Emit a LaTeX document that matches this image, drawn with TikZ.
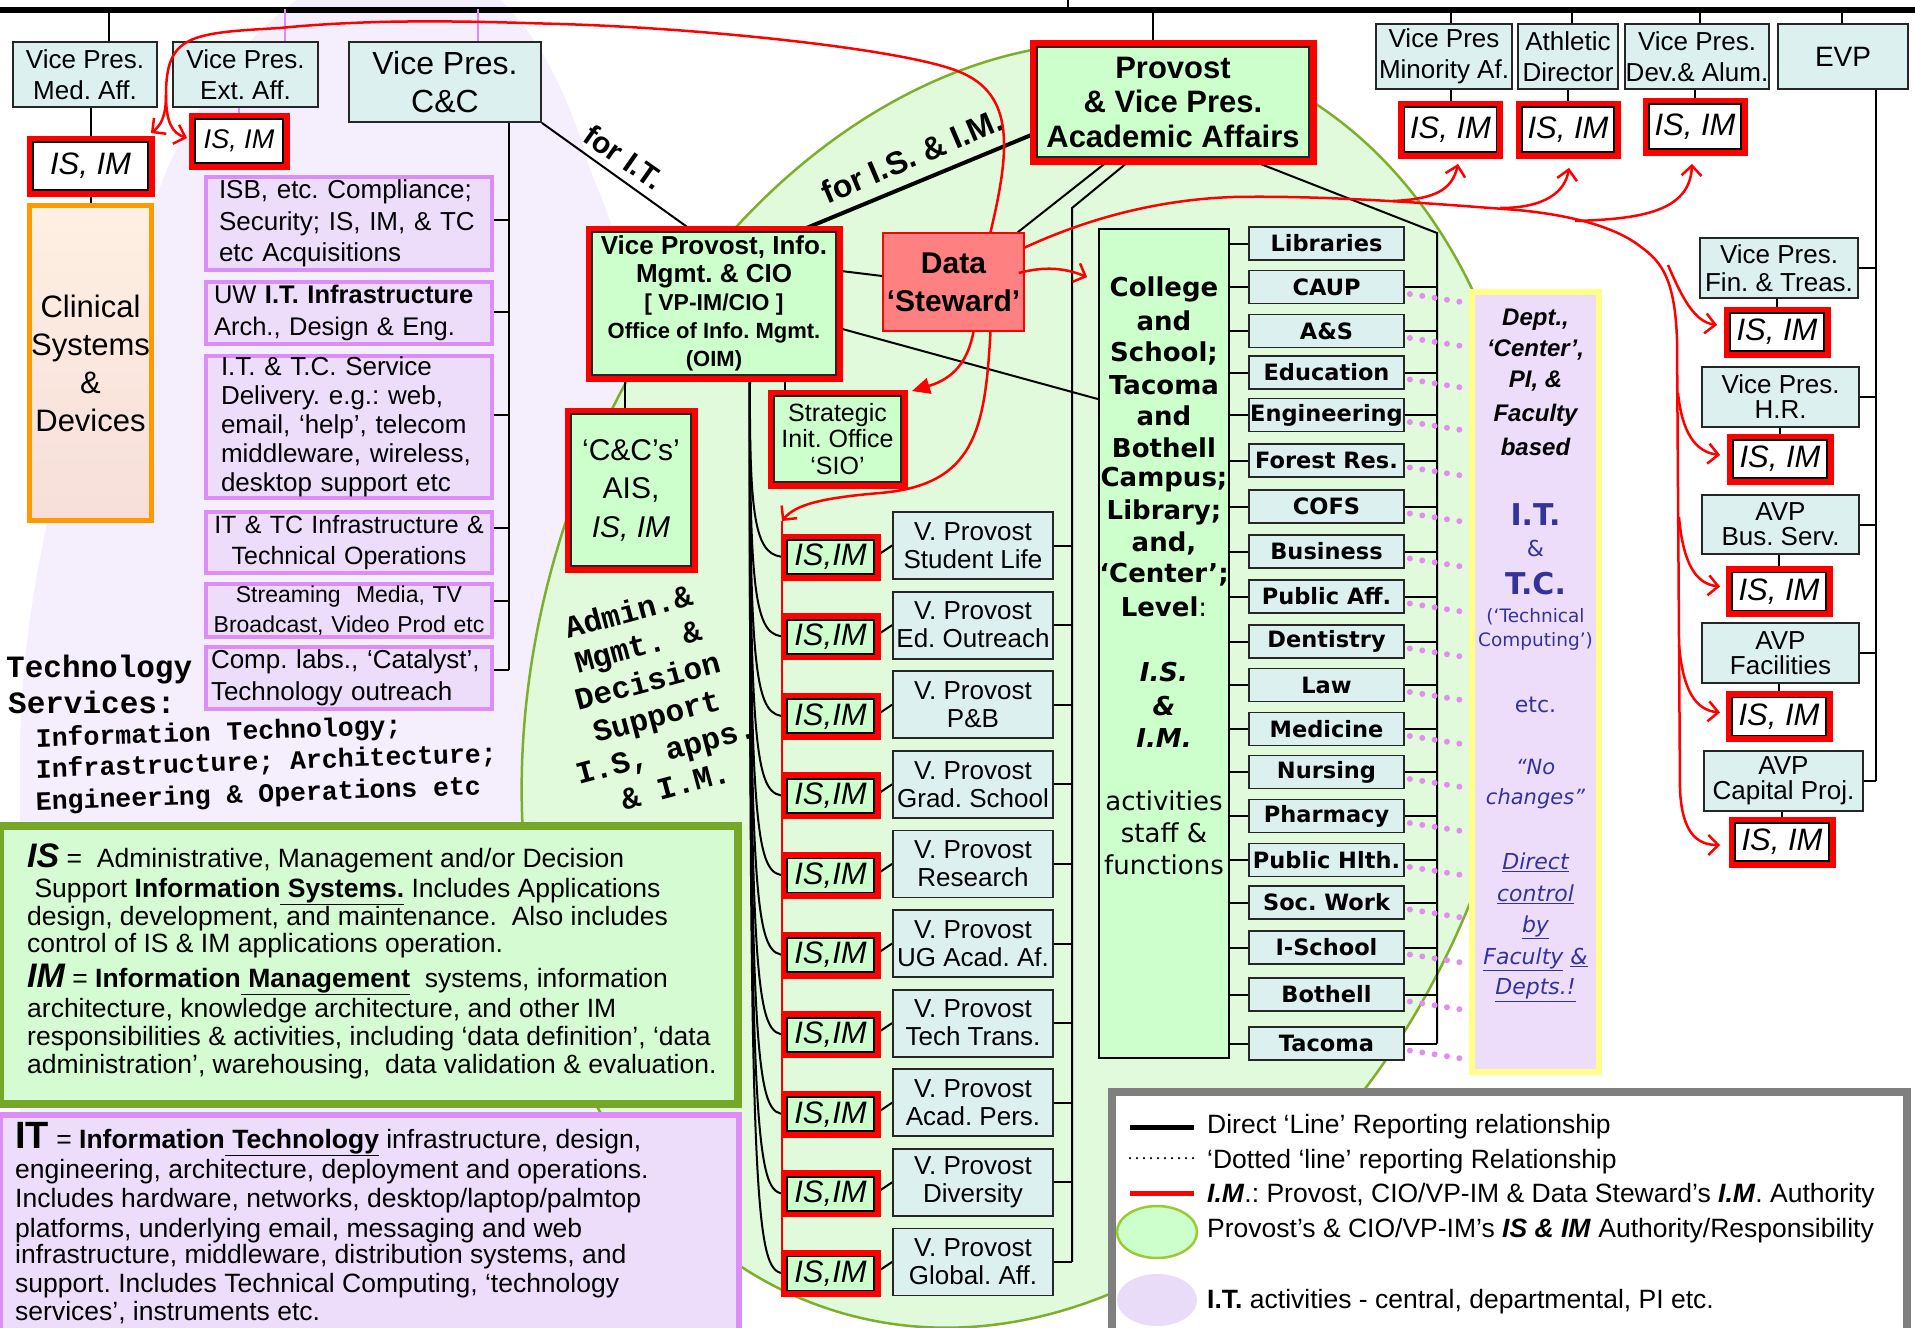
\documentclass[tikz,border=0pt]{standalone}
\usepackage{fontspec}
\setmainfont{Liberation Sans}
\newfontfamily\dvs{DejaVu Sans}
\newfontfamily\cour{Liberation Mono}
\usetikzlibrary{arrows.meta,calc,shapes.geometric}
\newcommand\fsz[2]{\fontsize{#1}{#2}\selectfont}
\pgfdeclarelayer{bgbg}
\pgfdeclarelayer{bg}
\pgfsetlayers{bgbg,bg,main}
\definecolor{vpfill}{HTML}{DDF0F0}
\definecolor{lgreen}{HTML}{CCFFCC}
\definecolor{ellfill}{HTML}{E0FADB}
\definecolor{elldraw}{HTML}{7DAF2D}
\definecolor{lav}{HTML}{F4EEFD}
\definecolor{pfill}{HTML}{EDDDFB}
\definecolor{pborder}{HTML}{DD8DF7}
\definecolor{purpline}{HTML}{D98CF5}
\definecolor{dotpink}{HTML}{E58CF0}
\definecolor{ybord}{HTML}{FFFF88}
\definecolor{dsfill}{HTML}{FF8080}
\definecolor{clinA}{HTML}{FEF0E2}
\definecolor{clinB}{HTML}{F7DEDA}
\definecolor{clinorange}{HTML}{FF9900}
\definecolor{dblue}{HTML}{333399}
\definecolor{isfill}{HTML}{D5FBD2}
\definecolor{isdraw}{HTML}{75A828}
\definecolor{lgray}{HTML}{7F7F7F}
\definecolor{legreen}{HTML}{99CC33}
\definecolor{legpurp}{HTML}{E8DCF8}
\begin{document}
\frenchspacing
\begin{tikzpicture}[x=1pt,y=-1pt,
 obox/.style={draw=black!85, line width=1.8pt, fill=vpfill, inner sep=0pt, align=center},
 gbox/.style={obox, fill=lgreen},
 redfr/.style={preaction={draw=red, line width=13pt}},
 redfrb/.style={preaction={draw=red, line width=15pt}},
 isim/.style={draw=black, line width=1.8pt, fill=white, inner sep=0pt, redfr, font=\itshape\fsz{31}{34}, minimum width=94pt, minimum height=38pt},
 isimc/.style={isim, fill=lgreen, minimum width=87pt, minimum height=34pt},
 dept/.style={obox, minimum width=155pt, minimum height=33pt, font=\dvs\bfseries\fsz{22.5}{24}},
 vpp/.style={obox, minimum width=160pt, minimum height=67pt, font=\fsz{26}{28}},
 blk/.style={draw=black, line width=2pt},
 purp/.style={draw=purpline, line width=2pt},
 redl/.style={draw=red, line width=2.5pt},
 oarr/.style={-{Straight Barb[length=10pt,width=20pt]}},
 pinkdot/.style={draw=dotpink, line width=6pt, line cap=round, dash pattern=on 0pt off 12.5pt},
 pbox/.style={draw=pborder, line width=4pt, fill=pfill, inner ysep=0pt, align=left},
 lgtxt/.style={anchor=base west, font=\fsz{26.5}{29}, inner sep=0pt, text height=18pt, text depth=5pt},
]
\useasboundingbox (0,0) rectangle (1915,1328);

% ---------------- background shapes
\begin{pgfonlayer}{bgbg}
\fill[white] (0,0) rectangle (1915,1328);
\fill[lav] (405,-40) .. controls (300,-40) and (200,80) .. (160,187)
  .. controls (90,350) and (20,550) .. (20,760) -- (20,1340) -- (700,1340) -- (700,700)
  .. controls (680,450) and (630,260) .. (590,170) .. controls (560,60) and (500,-40) .. (405,-40) -- cycle;
\draw[fill=ellfill, draw=elldraw, line width=2.5pt, rotate around={-17:(1028,685)}]
  (1028,685) ellipse [x radius=490pt, y radius=655pt];
\end{pgfonlayer}

% ---------------- top row
\node[obox, minimum width=144pt, minimum height=65pt, font=\fsz{26}{31}] (vpmed) at (85,74.5) {Vice Pres.\\Med. Aff.};
\node[obox, minimum width=145pt, minimum height=65pt, font=\fsz{26}{31}] (vpext) at (245.5,74.5) {Vice Pres.\\Ext. Aff.};
\node[obox, minimum width=192pt, minimum height=80pt, font=\fsz{32}{38}] (vpcc) at (445,82) {Vice Pres.\\C\&C};
\node[gbox, redfrb, minimum width=272pt, minimum height=110pt, font=\bfseries\fsz{31}{34.5}] (provost) at (1173,102) {Provost\\\& Vice Pres.\\Academic Affairs};
\node[obox, minimum width=136pt, minimum height=65pt, font=\fsz{26}{31}] (vpmin) at (1444,56.5) {Vice Pres\\Minority Af.};
\node[obox, minimum width=100pt, minimum height=65pt, font=\fsz{26}{31}] (athl) at (1568,56.5) {Athletic\\Director};
\node[obox, minimum width=144pt, minimum height=65pt, font=\fsz{26}{31}] (vpdev) at (1697,56.5) {Vice Pres.\\Dev.\& Alum.};
\node[obox, minimum width=130pt, minimum height=65pt, font=\fsz{28}{31}] (evp) at (1843,56.5) {EVP};

\node[isim, minimum width=115pt, minimum height=48pt] (isimmed) at (90.5,166) {IS, IM};
\node[isim, minimum width=88pt, minimum height=44pt, font=\itshape\fsz{27}{30}] (isimext) at (239,141) {IS, IM};
\node[isim, minimum width=92pt, minimum height=45pt] (isimmin) at (1450.5,129.5) {IS, IM};
\node[isim, minimum width=92pt, minimum height=45pt] (isimath) at (1568,129.5) {IS, IM};
\node[isim, minimum width=92pt, minimum height=45pt] (isimdev) at (1695,126.5) {IS, IM};

% ---------------- right column
\node[obox, minimum width=158pt, minimum height=60pt, font=\fsz{26}{28}] (fin) at (1779,268) {Vice Pres.\\Fin. \& Treas.};
\node[isim] (isimfin) at (1777,332) {IS, IM};
\node[obox, minimum width=157pt, minimum height=60pt, font=\fsz{26}{25}] (hr) at (1780.5,397) {Vice Pres.\\H.R.};
\node[isim] (isimhr) at (1780,459) {IS, IM};
\node[obox, minimum width=157pt, minimum height=59pt, font=\fsz{26}{25}] (bus) at (1780.5,524.5) {AVP\\Bus. Serv.};
\node[isim] (isimbus) at (1779,591.5) {IS, IM};
\node[obox, minimum width=157pt, minimum height=60pt, font=\fsz{26}{25}] (fac) at (1780.5,653) {AVP\\Facilities};
\node[isim] (isimfac) at (1779,716.5) {IS, IM};
\node[obox, minimum width=159pt, minimum height=60pt, font=\fsz{26}{25}] (cap) at (1783.5,781) {AVP\\Capital Proj.};
\node[isim] (isimcap) at (1782,842) {IS, IM};

% ---------------- left column
\node[draw=clinorange, line width=5pt, top color=clinA, bottom color=clinB, minimum width=122pt, minimum height=315pt, inner sep=0pt, align=center, font=\fsz{31}{38}] (clin) at (90.5,363) {Clinical\\Systems\\\&\\Devices};
\node[pbox, text width=260pt, inner xsep=13pt, minimum height=93pt, font=\fsz{26}{31.5}] (b1) at (349,223.5) {ISB, etc. Compliance;\\Security; IS, IM, \& TC\\etc Acquisitions};
\node[pbox, text width=270pt, inner xsep=8pt, minimum height=62pt, font=\fsz{25.5}{32}] (b2) at (349,313) {UW \textbf{I.T. Infrastructure}\\Arch., Design \& Eng.};
\node[pbox, text width=256pt, inner xsep=15pt, minimum height=142pt, font=\fsz{26}{29}] (b3) at (349,427) {I.T. \& T.C. Service\\Delivery. e.g.: web,\\email, ‘help’, telecom\\middleware, wireless,\\desktop support etc};
\node[pbox, text width=282pt, inner xsep=2pt, minimum height=61pt, align=center, font=\fsz{25}{31}] (b4) at (349,542.5) {IT \& TC Infrastructure \&\\Technical Operations};
\node[pbox, text width=282pt, inner xsep=2pt, minimum height=53pt, align=center, font=\fsz{23}{30}] (b5) at (349,610.5) {Streaming\ \ Media, TV\\Broadcast, Video Prod etc};
\node[pbox, text width=276pt, inner xsep=5pt, minimum height=62pt, font=\fsz{26}{32}] (b6) at (349,678) {Comp. labs., ‘Catalyst’,\\Technology outreach};

\node[anchor=base west, inner sep=0pt, font=\cour\bfseries\fsz{31}{34}] (ts1) at (6,677) {Technology};
\node[anchor=base west, inner sep=0pt, font=\cour\bfseries\fsz{31}{34}] (ts2) at (8,713) {Services:};
\node[anchor=base west, inner sep=0pt, rotate=2, text height=17pt, text depth=5pt, font=\cour\bfseries\fsz{26.5}{30}] (ts3) at (36,747) {Information Technology;};
\node[anchor=base west, inner sep=0pt, rotate=2, text height=17pt, text depth=5pt, font=\cour\bfseries\fsz{26.5}{30}] (ts4) at (36,778) {Infrastructure; Architecture;};
\node[anchor=base west, inner sep=0pt, rotate=2, text height=17pt, text depth=5pt, font=\cour\bfseries\fsz{26.5}{30}] (ts5) at (36,810) {Engineering \& Operations etc};

% ---------------- middle
\node[gbox, redfr, minimum width=244pt, minimum height=143pt, font=\bfseries\fsz{26}{28}] (cio) at (714,303.5) {Vice Provost, Info.\\Mgmt. \& CIO\\{\fsz{23}{28}[ VP-IM/CIO ]}\\{\fsz{22}{28}Office of Info. Mgmt.}\\{\fsz{22}{28}(OIM)}};
\node[gbox, redfr, minimum width=120pt, minimum height=152pt, font=\fsz{30}{38.5}] (ais) at (631,490) {‘C\&C’s’\\AIS,\\\textit{IS, IM}};
\node[gbox, redfr, minimum width=127pt, minimum height=86pt, font=\fsz{25}{26.5}] (strat) at (837.5,439) {Strategic\\Init. Office\\‘SIO’};
\node[draw=red, line width=1.5pt, fill=dsfill, minimum width=141pt, minimum height=98pt, inner sep=0pt, align=center, font=\bfseries\fsz{30}{38}] (ds) at (953.5,282) {Data\\‘Steward’};

\node[rotate=-35, inner sep=0pt, font=\bfseries\fsz{30}{32}] (forit) at (624,157) {for I.T.};
\node[rotate=23, inner sep=0pt, font=\bfseries\fsz{32}{34}] (forisim) at (912,156) {for I.S. \& I.M.};
\node[rotate=15, align=center, font=\cour\bfseries\fsz{31}{36}] (admin) at (652,698) {Admin.\&\\Mgmt. \&\\Decision\\Support\\I.S, apps.\\\& I.M.};

% VP provost column
\foreach \t [count=\i from 0] in {Student Life, Ed. Outreach, P\&B, Grad. School, Research, UG Acad. Af., Tech Trans., Acad. Pers., Diversity, Global. Aff.}{
  \node[vpp] (vp\i) at (973,{545.5+79.6*\i}) {V. Provost\\\t};
  \node[isimc] (ii\i) at (830.5,{557+79.6*\i}) {IS,IM};
}

% college and departments
\node[draw=black, line width=1.8pt, fill=lgreen, minimum width=130pt, minimum height=829pt, inner sep=0pt] (college) at (1164,643.5) {};
\foreach \t/\y [count=\i] in {College/289, and/321, School;/353, Tacoma/385, and/416, Bothell/448, Campus;/480, Library;/512, {and,}/543, ‘Center’;/575}
  \node[font=\dvs\bfseries\fsz{26}{28}, inner sep=0pt] (ct\i) at (1164,\y) {\t};
\node[font=\dvs\fsz{26}{28}, inner sep=0pt] (ct11) at (1164,607) {\textbf{Level}:};
\node[font=\dvs\bfseries\itshape\fsz{26}{28}, inner sep=0pt] (ct12) at (1164,672) {I.S.};
\node[font=\dvs\bfseries\itshape\fsz{26}{28}, inner sep=0pt] (ct13) at (1164,706) {\&};
\node[font=\dvs\bfseries\itshape\fsz{26}{28}, inner sep=0pt] (ct14) at (1164,738) {I.M.};
\node[font=\dvs\fsz{26}{28}, inner sep=0pt] (ct15) at (1164,801) {activities};
\node[font=\dvs\fsz{26}{28}, inner sep=0pt] (ct16) at (1164,833) {staff \&};
\node[font=\dvs\fsz{26}{28}, inner sep=0pt] (ct17) at (1164,865) {functions};

\foreach \n/\y [count=\i] in {Libraries/243.5, CAUP/287, A\&S/331, Education/372.5, Engineering/415, Forest Res./460.5, COFS/506.5, Business/551.5, Public Aff./596.5, Dentistry/641.5, Law/685, Medicine/729, Nursing/772, Pharmacy/816, Public Hlth./860, Soc. Work/902.5, I-School/947.5, Bothell/994.5, Tacoma/1043.5}
  \node[dept] (d\i) at (1326.5,\y) {\n};

\node[draw=ybord, line width=6pt, fill=pfill, minimum width=127pt, minimum height=780pt, inner sep=0pt] (itbox) at (1535.5,682) {};
\node[inner sep=0pt, font=\bfseries\itshape\fsz{24}{26}] (p1) at (1535.5,320) {Dept.,};
\node[inner sep=0pt, font=\bfseries\itshape\fsz{24}{26}] (p2) at (1535.5,350) {‘Center’,};
\node[inner sep=0pt, font=\bfseries\itshape\fsz{24}{26}] (p3) at (1535.5,381) {PI, \&};
\node[inner sep=0pt, font=\bfseries\itshape\fsz{24}{26}] (p4) at (1535.5,415) {Faculty};
\node[inner sep=0pt, font=\bfseries\itshape\fsz{24}{26}] (p5) at (1535.5,447) {based};
\node[inner sep=0pt, font=\dvs\bfseries\fsz{30}{32}, text=dblue] (p6) at (1535.5,515) {I.T.};
\node[inner sep=0pt, font=\dvs\fsz{22}{24}, text=dblue] (p7) at (1535.5,548) {\&};
\node[inner sep=0pt, font=\dvs\bfseries\fsz{30}{32}, text=dblue] (p8) at (1535.5,584) {T.C.};
\node[inner sep=0pt, font=\dvs\fsz{18.5}{20}, text=dblue] (p9) at (1535.5,617) {(‘Technical};
\node[inner sep=0pt, font=\dvs\fsz{18.5}{20}, text=dblue] (p10) at (1535.5,641) {Computing’)};
\node[inner sep=0pt, font=\dvs\fsz{22}{24}, text=dblue] (p11) at (1535.5,705) {etc.};
\node[inner sep=0pt, font=\dvs\itshape\fsz{21}{24}, text=dblue] (p12) at (1535.5,767) {“No};
\node[inner sep=0pt, font=\dvs\itshape\fsz{21}{24}, text=dblue] (p13) at (1535.5,799) {changes”};
\node[inner sep=0pt, font=\dvs\itshape\fsz{22}{24}, text=dblue] (p14) at (1535.5,862) {\underline{Direct}};
\node[inner sep=0pt, font=\dvs\itshape\fsz{22}{24}, text=dblue] (p15) at (1535.5,894) {\underline{control}};
\node[inner sep=0pt, font=\dvs\itshape\fsz{22}{24}, text=dblue] (p16) at (1535.5,927) {\underline{by}};
\node[inner sep=0pt, font=\dvs\itshape\fsz{22}{24}, text=dblue] (p17) at (1535.5,959) {\underline{Faculty} \underline{\&}};
\node[inner sep=0pt, font=\dvs\itshape\fsz{22}{24}, text=dblue] (p18) at (1535.5,990) {\underline{Depts.!}};

% ---------------- legends (left)
\node[draw=isdraw, line width=8pt, fill=isfill, minimum width=738pt, minimum height=278pt, inner sep=0pt] (islg) at (369,965) {};
\node[draw=pborder, line width=6pt, fill=pfill, minimum width=739pt, minimum height=230pt, inner sep=0pt] (itlg) at (369.5,1230) {};
\node[lgtxt] (is1) at (27,867) {{\bfseries\itshape\fsz{34}{34}IS} =\ \ Administrative, Management and/or Decision};
\node[lgtxt] (is2) at (27,897) {\ Support \textbf{Information\underline{ Systems.}} Includes Applications};
\node[lgtxt] (is3) at (27,925) {design, development, and maintenance.\ \ Also includes};
\node[lgtxt] (is4) at (27,952) {control of IS \& IM applications operation.};
\node[lgtxt] (is5) at (27,987) {{\bfseries\itshape\fsz{34}{34}IM} = \textbf{Information\underline{ Management}}\ \ systems, information};
\node[lgtxt] (is6) at (27,1017) {architecture, knowledge architecture, and other IM};
\node[lgtxt] (is7) at (27,1045) {responsibilities \& activities, including ‘data definition’, ‘data};
\node[lgtxt] (is8) at (27,1073) {administration’, warehousing,\ \ data validation \& evaluation.};
\node[lgtxt] (it1) at (15,1148) {{\bfseries\fsz{38}{38}IT} = \textbf{Information\underline{ Technology}} infrastructure, design,};
\node[lgtxt] (it2) at (15,1178) {engineering, architecture, deployment and operations.};
\node[lgtxt] (it3) at (15,1207) {Includes hardware, networks, desktop/laptop/palmtop};
\node[lgtxt] (it4) at (15,1237) {platforms, underlying email, messaging and web};
\node[lgtxt] (it5) at (15,1263) {infrastructure, middleware, distribution systems, and};
\node[lgtxt] (it6) at (15,1292) {support. Includes Technical Computing, ‘technology};
\node[lgtxt] (it7) at (15,1320) {services’, instruments etc.};

% ---------------- legend (right)
\node[draw=lgray, line width=8pt, fill=white, minimum width=795pt, minimum height=248pt, inner sep=0pt] (leg) at (1509.5,1216) {};
\coordinate (la1) at (1130,1127); \coordinate (la2) at (1194,1127);
\coordinate (lb1) at (1130,1158); \coordinate (lb2) at (1194,1158);
\coordinate (lc1) at (1130,1193); \coordinate (lc2) at (1194,1193);
\draw[line width=5pt] (la1) -- (la2);
\draw[line width=2.5pt, line cap=round, dash pattern=on 0pt off 7pt] (lb1) -- (lb2);
\draw[red, line width=5pt] (lc1) -- (lc2);
\node[ellipse, draw=legreen, line width=2.5pt, fill=lgreen, minimum width=80pt, minimum height=52pt] (lge1) at (1157,1232) {};
\node[ellipse, fill=legpurp, minimum width=80pt, minimum height=52pt] (lge2) at (1157,1300) {};
\node[lgtxt, font=\fsz{26.5}{28}] (lt1) at (1207,1133) {Direct ‘Line’ Reporting relationship};
\node[lgtxt, font=\fsz{26.5}{28}] (lt2) at (1207,1168) {‘Dotted ‘line’ reporting Relationship};
\node[lgtxt, font=\fsz{26.5}{28}] (lt3) at (1207,1202) {\textbf{\textit{I.M}}.: Provost, CIO/VP-IM \& Data Steward’s \textbf{\textit{I.M}}. Authority};
\node[lgtxt, font=\fsz{26.5}{28}] (lt4) at (1207,1237) {Provost’s \& CIO/VP-IM’s \textbf{\textit{IS \& IM}} Authority/Responsibility};
\node[lgtxt, font=\fsz{26.5}{28}] (lt5) at (1207,1308) {\textbf{I.T.} activities - central, departmental, PI etc.};

% ---------------- black connectors
\coordinate (busL) at (0,10); \coordinate (busR) at (1915,10);
\coordinate (pres) at (1068,0);
\coordinate (evpx) at (1876,0);
\coordinate (ccx) at (509,0);
\coordinate (vpx) at (1072,208);
\coordinate (dx) at (1437,233);
\begin{pgfonlayer}{bg}
\draw[line width=6pt] (busL) -- (busR);
\draw[blk] (pres) -- ++(0,10);
\draw[blk] (vpmed.north) ++(24,0) -- ++(0,-32);
\draw[purp] (vpext.north) ++(39.5,0) -- ++(0,-32);
\draw[purp] (vpcc.north) ++(33,0) -- ++(0,-32);
\draw[blk] (provost.north) ++(-20,0) -- ++(0,-37);
\draw[blk] (vpmin.north) ++(7,0) -- ++(0,-14);
\draw[blk] (athl.north) ++(4,0) -- ++(0,-14);
\draw[blk] (vpdev.north) ++(3,0) -- ++(0,-14);
\draw[blk] (evp.north) ++(-1,0) -- ++(0,-14);
\draw[blk] (vpmed.south -| isimmed.north) -- (isimmed.north);
\draw[blk] (isimmed.south) -- (clin.north);
\draw[purp] (vpext.south -| isimext.north) -- (isimext.north);
\foreach \a/\b in {vpmin/isimmin, athl/isimath, vpdev/isimdev, fin/isimfin, hr/isimhr, bus/isimbus, fac/isimfac, cap/isimcap}
  \draw[blk] (\a.south -| \b.north) -- (\b.north);
\draw[blk] (evp.south -| evpx) -- (cap.east -| evpx);
\foreach \n in {fin,hr,bus,fac,cap} \draw[blk] (\n.east) -- (\n.east -| evpx);
\draw[blk] (vpcc.south -| ccx) -- ($(b6.east -| ccx)+(0,-8)$);
\foreach \b/\o in {b1/-3.5,b2/-1,b3/-12,b4/-15,b5/-10,b6/-8}
  \draw[blk] ($(\b.east)+(0,\o)$) -- ($(\b.east -| ccx)+(0,\o)$);
\draw[blk] (vpcc.south east) -- ($(cio.north)+(-21,0)$);
\draw[line width=4pt] ($(provost.west)+(0,31)$) -- ($(cio.north)+(85,0)$);
\draw[blk] ($(cio.south)+(-89,0)$) -- ($(ais.north)+(-6,0)$);
\draw[blk] ($(cio.south)+(71,0)$) -- ($(strat.north)+(-52.5,0)$);
\draw[blk] ($(cio.east)+(0,-33)$) -- ($(ds.west)+(0,-6)$);
\draw[blk] ($(cio.east)+(0,24)$) -- ($(college.north west)+(0,171)$);
\draw[blk] ($(provost.south)+(-61,0)$) -- ($(ds.north east)+(-7,0)$);
\draw[blk] ($(provost.south)+(-40,0)$) -- (vpx) -- (vpx |- vp9.east);
\foreach \i in {0,...,9} \draw[blk] (vp\i.east) -- (vp\i.east -| vpx);
\draw[blk] ($(provost.south)+(72,0)$) -- (dx) -- (dx |- d19.east);
\foreach \i in {1,...,19} \draw[blk] (college.east |- d\i.west) -- (d\i.west);
\foreach \i in {2,...,19} \draw[blk] (d\i.east) -- (d\i.east -| dx);
\foreach \i in {2,...,19} \draw[pinkdot] ($(d\i.east)+(5,7)$) -- ($(d\i.east)+(63,16)$);
\foreach \i in {0,...,9} \draw[blk] ($(cio.south)+(36,0)$) .. controls ($(ii\i.west)+(-37,-30)$) and ($(ii\i.west)+(-30,0)$) .. (ii\i.west);
\foreach \i in {0,...,9} \draw[blk] (ii\i.east) -- (vp\i.west);
\end{pgfonlayer}

% ---------------- red authority lines
\coordinate (rv) at (782,521);
\coordinate (rb1) at (1393,201);
\coordinate (rb2) at (1500,208);
\coordinate (rb3) at (1575,221);
\coordinate (rb4) at (1668,265);
\coordinate (rb5) at (1678,393);
\coordinate (rb6) at (1679,517);
\coordinate (rb7) at (1679,645);
\draw[redl] ($(ds.north)+(37,0)$) .. controls (1010,150) and (1015,95) .. (960,72)
  .. controls (905,49) and (700,28) .. (560,24) .. controls (480,21.7) and (380,18) .. (280,28)
  .. controls (190,33) and (166,35) .. (166,95) coordinate (rj1);
\draw[redl,oarr] (rj1) .. controls (166,118) and (160,126) .. ($(isimmed.north east)+(2,-8)$);
\draw[redl,oarr] (rj1) .. controls (166,122) and (172,133) .. ($(isimext.west)+(-7,-3)$);
\draw[redl,oarr] ($(ds.south)+(37,0)$) .. controls (985,430) and (975,485) .. (880,493)
  .. controls (820,498) and (795,505) .. (rv);
\draw[redl] (rv) -- (rv |- ii9.west);
\draw[redl,-{Triangle[length=18pt,width=16pt]}] ($(ds.south)+(20,0)$) .. controls (968,360) and (955,378) .. ($(strat.north east)+(10,-4)$);
\draw[redl,oarr] ($(ds.east)+(-6,-9)$) .. controls (1045,266) and (1065,268) .. ($(college.north west)+(-11,49)$);
\draw[redl] ($(ds.east)+(-1,-34)$) .. controls (1080,222) and (1150,200) .. (1233,197)
  .. controls (1330,195) and (1450,205) .. (1504,209) .. controls (1550,212) and (1610,222) .. (1641,247)
  .. controls (1662,262) and (1675,280) .. (1677,340) -- (1680,790) coordinate (rt);
\draw[redl,oarr] (rt) .. controls (1682,830) and (1695,845) .. ($(isimcap.west)+(-14,3)$);
\draw[redl,oarr] (rb1) .. controls (1435,199) and (1452,190) .. ($(isimmin.south)+(7.5,11)$);
\draw[redl,oarr] (rb2) .. controls (1545,208) and (1565,192) .. ($(isimath.south)+(1,15)$);
\draw[redl,oarr] (rb3) .. controls (1640,219) and (1690,212) .. ($(isimdev.south)+(-3,14)$);
\draw[redl,oarr] (rb4) .. controls (1683,300) and (1695,322) .. ($(isimfin.west)+(-12,-7)$);
\draw[redl,oarr] (rb5) .. controls (1682,432) and (1695,452) .. ($(isimhr.west)+(-12,-4)$);
\draw[redl,oarr] (rb6) .. controls (1683,562) and (1695,584) .. ($(isimbus.west)+(-11,-5)$);
\draw[redl,oarr] (rb7) .. controls (1683,690) and (1695,710) .. ($(isimfac.west)+(-11,-4)$);
\end{tikzpicture}
\end{document}
